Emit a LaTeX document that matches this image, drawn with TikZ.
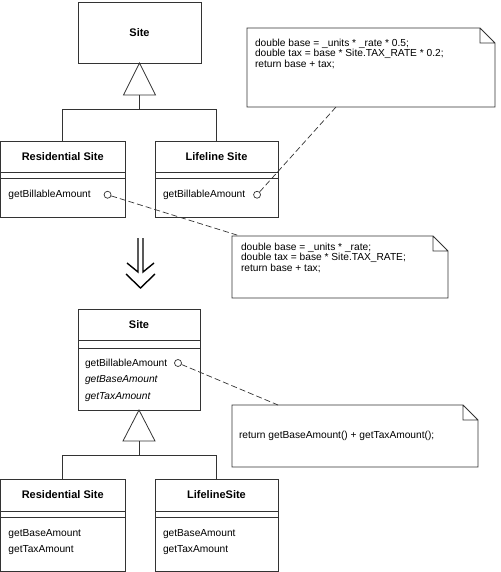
\documentclass[tikz,border=0pt]{standalone}
\usepackage{fontspec}
\setmainfont{Liberation Sans}
\usetikzlibrary{positioning,calc}

\tikzset{
  umlbox/.style={draw=black!80, line width=0.8pt, rectangle, inner sep=0pt, outer sep=0pt},
  classname/.style={umlbox, font=\fontsize{11}{13}\selectfont\bfseries},
  ops/.style={inner sep=0pt, outer sep=0pt, align=left, font=\fontsize{10.2}{16.5}\selectfont},
  hook/.style={circle, draw=black!80, line width=0.7pt, fill=white, inner sep=0pt, minimum size=7pt},
  notebox/.style={rectangle, inner sep=0pt, outer sep=0pt},
  notetext/.style={inner sep=0pt, outer sep=0pt, align=left, font=\fontsize{10.2}{10.5}\selectfont},
  fold/.style={draw=black!80, line width=0.8pt},
  link/.style={draw=black!80, line width=0.7pt, dash pattern=on 6pt off 3pt},
  gen/.style={draw=black!80, line width=0.8pt},
  bigarrow/.style={line width=1.4pt, line cap=butt}
}

\begin{document}
\begin{tikzpicture}[x=1pt,y=-1pt]
          \useasboundingbox (0,0) rectangle (500,572);
          % before
          \node[classname, minimum width=123pt, minimum height=61pt] (siteA) at (139.5,32.5) {Site};
          \node[classname, minimum width=124.5pt, minimum height=31pt] (resA) at (62.75,156.5) {Residential Site};
          \node[umlbox, minimum width=124.5pt, minimum height=6pt, below=0pt of resA] (resA-attr) {};
          \node[umlbox, minimum width=124.5pt, minimum height=39pt, below=0pt of resA-attr] (resA-ops) {};
          \node[ops, below right=12pt and 8pt of resA-ops.north west] (resA-txt) {getBillableAmount};
          \node[hook, right=13pt of resA-txt] (resA-hook) {};
          \node[classname, minimum width=123pt, minimum height=31pt] (lifeA) at (216.5,156.5) {Lifeline Site};
          \node[umlbox, minimum width=123pt, minimum height=6pt, below=0pt of lifeA] (lifeA-attr) {};
          \node[umlbox, minimum width=123pt, minimum height=39pt, below=0pt of lifeA-attr] (lifeA-ops) {};
          \node[ops, below right=12pt and 8pt of lifeA-ops.north west] (lifeA-txt) {getBillableAmount};
          \node[hook, right=8pt of lifeA-txt] (lifeA-hook) {};
          \coordinate[below=32pt of siteA.south] (genA);
          \coordinate[below=14pt of genA] (jA);
          \draw[gen] (siteA.south) -- ([xshift=-16pt]genA) -- ([xshift=16pt]genA) -- cycle;
          \draw[gen] (genA) -- (jA) -| (resA.north);
          \draw[gen] (jA) -| (lifeA.north);
          % notes
          \node[notebox, minimum width=248pt, minimum height=79pt] (noteA) at (371,67.5) {};
          \node[notetext, below right=11pt and 8pt of noteA.north west] (noteA-txt)
            {double base = \_units * \_rate * 0.5;\\double tax = base * Site.TAX\_RATE * 0.2;\\return base + tax;};
          \node[notebox, minimum width=216pt, minimum height=62pt] (noteB) at (340,267) {};
          \node[notetext, below right=7pt and 9pt of noteB.north west] (noteB-txt)
            {double base = \_units * \_rate;\\double tax = base * Site.TAX\_RATE;\\return base + tax;};
          \node[notebox, minimum width=246pt, minimum height=62pt] (noteC) at (355,436) {};
          \node[notetext, right=7pt of noteC.west] (noteC-txt) {return getBaseAmount() + getTaxAmount();};
          \foreach \n in {noteA,noteB,noteC}
            \draw[fold] (\n.north west) -- ([xshift=-15pt]\n.north east) -- ([yshift=-15pt]\n.north east)
              -- (\n.south east) -- (\n.south west) -- cycle
              ([xshift=-15pt]\n.north east) |- ([yshift=-15pt]\n.north east);
          % refactoring arrow
          \coordinate (refactor) at (140.5,238);
          \draw[bigarrow] ([xshift=-2.5pt]refactor) -- ++(0,34) -- ++(-11,-9);
          \draw[bigarrow] ([xshift=2.5pt]refactor) -- ++(0,34) -- ++(11,-9);
          \draw[bigarrow] ([shift={(-14.5,36)}]refactor) -- ++(14.5,14) -- ++(14.5,-14);
          % after
          \node[classname, minimum width=122pt, minimum height=31pt] (siteB) at (139,324.5) {Site};
          \node[umlbox, minimum width=122pt, minimum height=8pt, below=0pt of siteB] (siteB-attr) {};
          \node[umlbox, minimum width=122pt, minimum height=62pt, below=0pt of siteB-attr] (siteB-ops) {};
          \node[ops, below right=11pt and 7pt of siteB-ops.north west] (siteB-txt)
            {getBillableAmount\\\textit{getBaseAmount}\\\textit{getTaxAmount}};
          \node[hook] (siteB-hook) at (178,363) {};
          \coordinate[below=31pt of siteB-ops.south] (genB);
          \coordinate[below=14pt of genB] (jB);
          \node[classname, minimum width=124.5pt, minimum height=32pt] (resB) at (62.75,495) {Residential Site};
          \node[umlbox, minimum width=124.5pt, minimum height=6pt, below=0pt of resB] (resB-attr) {};
          \node[umlbox, minimum width=124.5pt, minimum height=54pt, below=0pt of resB-attr] (resB-ops) {};
          \node[ops, below right=12pt and 8pt of resB-ops.north west] (resB-txt) {getBaseAmount\\getTaxAmount};
          \node[classname, minimum width=123pt, minimum height=32pt] (lifeB) at (216.5,495) {LifelineSite};
          \node[umlbox, minimum width=123pt, minimum height=6pt, below=0pt of lifeB] (lifeB-attr) {};
          \node[umlbox, minimum width=123pt, minimum height=54pt, below=0pt of lifeB-attr] (lifeB-ops) {};
          \node[ops, below right=12pt and 8pt of lifeB-ops.north west] (lifeB-txt) {getBaseAmount\\getTaxAmount};
          \draw[gen] (siteB-ops.south) -- ([xshift=-16pt]genB) -- ([xshift=16pt]genB) -- cycle;
          \draw[gen] (genB) -- (jB) -| (resB.north);
          \draw[gen] (jB) -| (lifeB.north);
          % note links
          \draw[link] (resA-hook) -- ([xshift=8pt]noteB.north west);
          \draw[link] (lifeA-hook) -- ([xshift=89pt]noteA.south west);
          \draw[link] (siteB-hook) -- ([xshift=46pt]noteC.north west);
        \end{tikzpicture}
\end{document}
